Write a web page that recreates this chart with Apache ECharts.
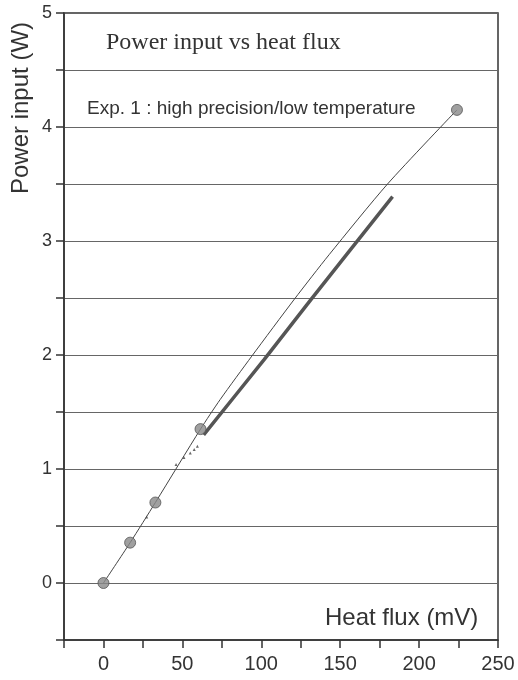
<!DOCTYPE html>
<html>
<head>
<meta charset="utf-8">
<script src="https://cdn.jsdelivr.net/npm/echarts@6/dist/echarts.min.js"></script>
<style>
  html, body { margin: 0; padding: 0; background: #fff; }
  #chart { width: 518px; height: 680px; }
</style>
</head>
<body>
<div id="chart"></div>
<script>
// calibration points (circles)
const circleX = [0, 16.9, 32.9, 61.5, 224]
const circleY = [0, 0.354, 0.706, 1.35, 4.15]

// thin connecting curve
const thinX = [0, 16.9, 32.9, 61.5, 74, 94, 121, 143, 180, 224]
const thinY = [0, 0.354, 0.706, 1.35, 1.61, 1.99, 2.49, 2.88, 3.5, 4.15]

// thick measured trace
const thickX = [63.5, 101.8, 131.7, 183.2]
const thickY = [1.3, 1.96, 2.49, 3.39]

// scattered small points
const dotsX = [27.4, 46, 51, 55, 57.5, 59.5]
const dotsY = [0.58, 1.04, 1.1, 1.14, 1.17, 1.2]

const zip = (xs, ys) => xs.map((x, i) => [x, ys[i]])

const sans = 'Liberation Sans, Arial, sans-serif'
const axisColor = '#333'

const chart = echarts.init(document.getElementById('chart'))
chart.setOption({
  animation: false,
  backgroundColor: '#fff',
  grid: {
    left: 64,
    right: 20,
    top: 13,
    bottom: 40,
    show: true,
    borderColor: axisColor,
    borderWidth: 1.5
  },
  xAxis: {
    type: 'value',
    min: -25,
    max: 250,
    interval: 25,
    axisLine: { show: true, onZero: false, lineStyle: { color: axisColor, width: 1.5 } },
    axisTick: { show: true, inside: false, length: 8, lineStyle: { color: axisColor, width: 1.5 } },
    splitLine: { show: false },
    axisLabel: {
      color: '#333',
      fontFamily: sans,
      fontSize: 20,
      margin: 14,
      formatter: v => (v >= 0 && v % 50 === 0 ? String(v) : '')
    }
  },
  yAxis: {
    type: 'value',
    min: -0.5,
    max: 5,
    interval: 0.5,
    axisLine: { show: true, onZero: false, lineStyle: { color: axisColor, width: 1.5 } },
    axisTick: { show: true, inside: false, length: 8, lineStyle: { color: axisColor, width: 1.5 } },
    splitLine: { show: true, lineStyle: { color: '#666', width: 1 } },
    axisLabel: {
      color: '#333',
      fontFamily: sans,
      fontSize: 18,
      margin: 12,
      formatter: v => (v >= 0 && Number.isInteger(v) ? String(v) : '')
    }
  },
  graphic: [
    {
      type: 'text',
      left: 106,
      top: 31,
      style: { text: 'Power input vs heat flux', font: '24px "Liberation Serif", "Times New Roman", serif', fill: '#333' }
    },
    {
      type: 'text',
      left: 87,
      top: 99,
      style: { text: 'Exp. 1 : high precision/low temperature', font: '19px "Liberation Sans", Arial, sans-serif', fill: '#333' }
    },
    {
      type: 'text',
      left: 325,
      top: 606,
      style: { text: 'Heat flux (mV)', font: '24px "Liberation Sans", Arial, sans-serif', fill: '#333' }
    },
    {
      type: 'text',
      x: 21,
      y: 108,
      rotation: Math.PI / 2,
      style: {
        text: 'Power input (W)',
        font: '24px "Liberation Sans", Arial, sans-serif',
        fill: '#333',
        align: 'center',
        verticalAlign: 'middle'
      }
    }
  ],
  series: [
    {
      type: 'line',
      data: zip(thinX, thinY),
      smooth: 0.25,
      symbol: 'none',
      lineStyle: { color: '#444', width: 1 },
      z: 2
    },
    {
      type: 'line',
      data: zip(thickX, thickY),
      smooth: 0.2,
      symbol: 'none',
      lineStyle: { color: '#555', width: 3.5 },
      z: 3
    },
    {
      type: 'scatter',
      data: zip(dotsX, dotsY),
      symbol: 'triangle',
      symbolSize: 3,
      itemStyle: { color: '#444' },
      z: 4
    },
    {
      type: 'scatter',
      data: zip(circleX, circleY),
      symbol: 'circle',
      symbolSize: 11,
      itemStyle: { color: '#888', borderColor: '#555', borderWidth: 1 },
      z: 5
    }
  ]
})
</script>
</body>
</html>
